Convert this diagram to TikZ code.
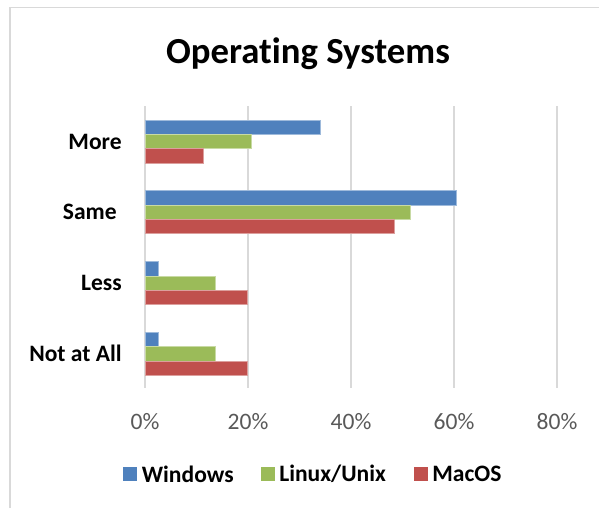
\documentclass[tikz,border=0pt]{standalone}
\usepackage{fontspec}
\setmainfont{Carlito}[Ligatures={NoCommon}]
\definecolor{winblue}{HTML}{4F81BD}
\definecolor{linuxgreen}{HTML}{9BBB59}
\definecolor{macred}{HTML}{C0504D}
\definecolor{gridgray}{HTML}{D9D9D9}
\definecolor{axisgray}{HTML}{595959}
\begin{document}
\begin{tikzpicture}[x=0.02cm, y=-0.02cm,
  winbar/.style={fill=winblue, draw=winblue!55!white, line width=0.4pt},
  linbar/.style={fill=linuxgreen, draw=linuxgreen!55!white, line width=0.4pt},
  macbar/.style={fill=macred, draw=macred!55!white, line width=0.4pt},
  gridln/.style={draw=gridgray, line width=0.75pt},
  cat/.style={anchor=east, inner sep=0pt, font=\fontsize{13.4}{16}\selectfont\bfseries},
  pct/.style={inner sep=0pt, text=axisgray, font=\fontsize{13.4}{16}\selectfont},
  legtext/.style={anchor=west, inner sep=0pt, font=\fontsize{13.4}{16}\selectfont\bfseries}]
\useasboundingbox (0,0) rectangle (599,508);
% chart frame
\draw[gridgray, line width=0.6pt] (10,508)--(10,7.5)--(599,7.5);
\node[anchor=base, inner sep=0pt, font=\fontsize{20.9}{25}\selectfont\bfseries] (title) at (308,63) {Operating Systems};
% gridlines
\draw[gridln] (145,106)--(145,388) (248,106)--(248,388) (351,106)--(351,388) (454,106)--(454,388) (557,106)--(557,388);
% More
\draw[winbar] (145,120) rectangle (320.7,134.3);
\draw[linbar] (145,134.3) rectangle (251.2,148.6);
\draw[macbar] (145,148.6) rectangle (203.3,162.9);
% Same
\draw[winbar] (145,190.8) rectangle (456,205.1);
\draw[linbar] (145,205.1) rectangle (410.7,219.4);
\draw[macbar] (145,219.4) rectangle (394.7,233.7);
% Less
\draw[winbar] (145,261.6) rectangle (158.7,275.9);
\draw[linbar] (145,275.9) rectangle (215.7,290.2);
\draw[macbar] (145,290.2) rectangle (247.7,304.5);
% Not at All
\draw[winbar] (145,332.4) rectangle (158.7,346.7);
\draw[linbar] (145,346.7) rectangle (215.7,361);
\draw[macbar] (145,361) rectangle (247.7,375.3);
% categories
\node[cat] (more) at (122,141.5) {More};
\node[cat] (same) at (117,212.3) {Same};
\node[cat] (less) at (122,283) {Less};
\node[cat] (notall) at (122,353.8) {Not at All};
% axis
\node[pct] (p0) at (145,422) {0\%};
\node[pct] (p20) at (248,422) {20\%};
\node[pct] (p40) at (351,422) {40\%};
\node[pct] (p60) at (454,422) {60\%};
\node[pct] (p80) at (557,422) {80\%};
% legend
\fill[winblue] (122.7,467.3) rectangle (136.7,480.7);
\node[legtext] (lwin) at (141.5,474) {Windows};
\fill[linuxgreen] (261,467.3) rectangle (275,480.7);
\node[legtext] (llin) at (279,474) {Linux/Unix};
\fill[macred] (414,467.3) rectangle (428,480.7);
\node[legtext] (lmac) at (432,474) {MacOS};
\end{tikzpicture}
\end{document}
